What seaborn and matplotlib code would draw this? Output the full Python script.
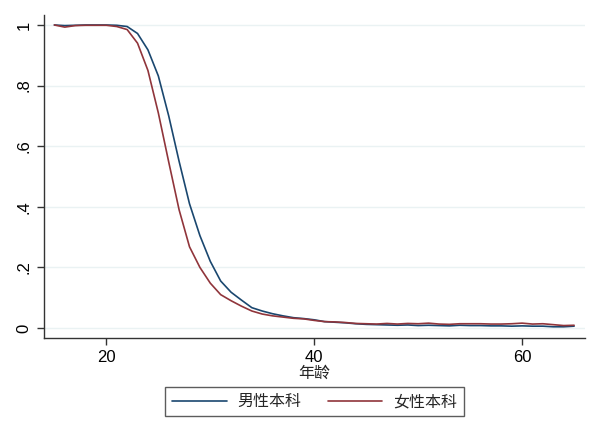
import numpy as np
import pandas as pd
import seaborn as sns
import matplotlib
matplotlib.use("Agg")
import matplotlib.pyplot as plt

# data
ages = list(range(15, 66))
male = [1.0, 0.998, 0.999, 1.0, 1.0, 1.0, 0.999, 0.995, 0.972, 0.918,
        0.832, 0.700, 0.550, 0.410, 0.305, 0.220, 0.155, 0.118, 0.092, 0.067,
        0.056, 0.047, 0.040, 0.034, 0.031, 0.027, 0.021, 0.019, 0.017, 0.014,
        0.012, 0.011, 0.010, 0.009, 0.010, 0.008, 0.009, 0.008, 0.007, 0.009,
        0.008, 0.008, 0.007, 0.007, 0.006, 0.007, 0.006, 0.006, 0.004, 0.004,
        0.006]
female = [1.0, 0.993, 0.998, 0.999, 0.999, 0.999, 0.995, 0.985, 0.940, 0.850,
          0.710, 0.548, 0.390, 0.268, 0.200, 0.148, 0.110, 0.090, 0.072, 0.056,
          0.046, 0.040, 0.036, 0.032, 0.030, 0.025, 0.021, 0.020, 0.018, 0.015,
          0.014, 0.013, 0.015, 0.013, 0.015, 0.014, 0.016, 0.013, 0.012, 0.014,
          0.014, 0.014, 0.013, 0.013, 0.014, 0.016, 0.013, 0.014, 0.011, 0.008,
          0.009]
series_names = ["男性本科", "女性本科"]
y_ticks = [0, 0.2, 0.4, 0.6, 0.8, 1.0]
y_ticklabels = ["0", ".2", ".4", ".6", ".8", "1"]
x_ticks = [20, 40, 60]

df = pd.DataFrame({
    "age": ages * 2,
    "value": male + female,
    "group": [series_names[0]] * len(ages) + [series_names[1]] * len(ages),
})

sns.set_style("white")
plt.rcParams["font.family"] = ["Liberation Sans", "Noto Sans CJK SC", "DejaVu Sans"]

fig = plt.figure(figsize=(6, 4.36), dpi=100)
ax = fig.add_axes([0.0733, 0.2248, 0.9017, 0.7408])

palette = {series_names[0]: "#1a476f", series_names[1]: "#90353b"}
sns.lineplot(data=df, x="age", y="value", hue="group", palette=palette,
             linewidth=1.2, ax=ax, legend=True)

ax.set_xlim(14.0, 66.05)
ax.set_ylim(-0.033, 1.033)
ax.set_xticks(x_ticks)
ax.set_yticks(y_ticks)
ax.set_yticklabels(y_ticklabels, rotation=90, va="center")
ax.tick_params(axis="both", direction="out", length=5, width=1, color="#333333",
               labelsize=12, labelcolor="black", bottom=True, left=True, pad=4)
ax.yaxis.grid(True, color="#eaf2f3", linewidth=1)
ax.xaxis.grid(False)
ax.set_axisbelow(True)
for s in ["top", "right"]:
    ax.spines[s].set_visible(False)
for s in ["left", "bottom"]:
    ax.spines[s].set_color("#333333")
    ax.spines[s].set_linewidth(1)

ax.set_xlabel("年龄", fontsize=11.5, labelpad=0)
ax.set_ylabel("")

handles, labels = ax.get_legend_handles_labels()
leg = ax.legend(handles, labels, loc="upper center", bbox_to_anchor=(0.5, -0.152),
                ncol=2, frameon=True, fancybox=False, fontsize=11.5,
                handlelength=3.4, columnspacing=1.7, handletextpad=0.65,
                borderpad=0.45, borderaxespad=0)
leg.get_frame().set_edgecolor("#333333")
leg.get_frame().set_linewidth(1)

fig.savefig("out.png", dpi=100, facecolor="white")
